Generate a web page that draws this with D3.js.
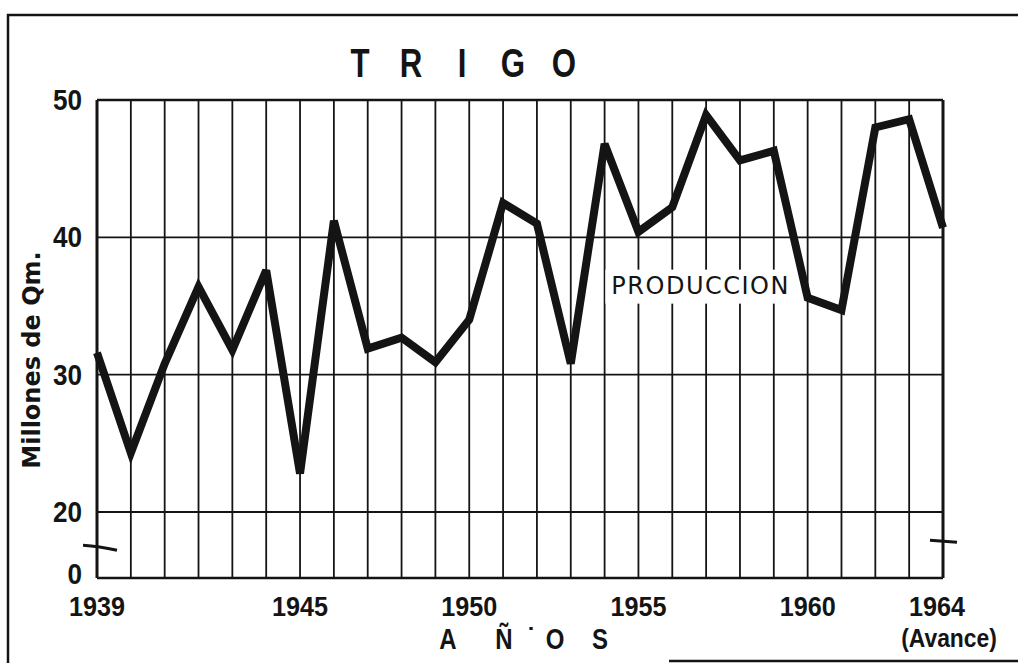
<!DOCTYPE html>
<html>
<head>
<meta charset="utf-8">
<script src="https://cdn.jsdelivr.net/npm/d3@7"></script>
<style>
  body { margin: 0; background: #fff; }
  svg { display: block; }
</style>
</head>
<body>
<div id="chart"></div>
<script>
// produccion de trigo, millones de Qm.
let years = d3.range(1939, 1965)
let produccion = [31.6, 24.3, 30.8, 36.4, 31.8, 37.6, 22.8, 41.2, 31.9, 32.7, 30.9, 34.0, 42.5,
  41.0, 30.8, 46.8, 40.4, 42.2, 48.9, 45.6, 46.3, 35.6, 34.7, 48.0, 48.6, 40.7]
let yTicks = [0, 20, 30, 40, 50]
let xTickYears = [1939, 1945, 1950, 1955, 1960, 1964]
let titleLetters = ['T', 'R', 'I', 'G', 'O']

let width = 1018, height = 663
let margin = { top: 100, right: 75, bottom: 85, left: 97 }
let plot_width = width - margin.left - margin.right
let plot_height = height - margin.top - margin.bottom

let ink = '#141414'
let sans = '"Liberation Sans", Arial, sans-serif'

let svg = d3.select('#chart').append('svg')
  .attr('width', width)
  .attr('height', height)

// marco exterior
svg.append('path')
  .attr('d', 'M8,663 L8,15 L1018,15')
  .attr('fill', 'none').attr('stroke', ink).attr('stroke-width', 2.5)
svg.append('line')
  .attr('x1', 669).attr('x2', 1018).attr('y1', 661).attr('y2', 661)
  .attr('stroke', ink).attr('stroke-width', 2.5)

let xScale = d3.scaleLinear()
  .domain([1939, 1964])
  .range([0, plot_width])

// eje cortado: 0..20 comprimido
let yScale = d3.scaleLinear()
  .domain([0, 20, 50])
  .range([plot_height, plot_height - 66, 0])

let g = svg.append('g')
  .attr('transform', `translate(${margin.left},${margin.top})`)

// rejilla vertical (un trazo por año)
g.append('g').selectAll('line')
  .data(years)
  .join('line')
  .attr('x1', d => xScale(d)).attr('x2', d => xScale(d))
  .attr('y1', 0).attr('y2', plot_height)
  .attr('stroke', ink)
  .attr('stroke-width', (d, i) => (i === 0 || i === years.length - 1) ? 3 : 1.8)

// rejilla horizontal
g.append('g').selectAll('line')
  .data(yTicks)
  .join('line')
  .attr('x1', 0).attr('x2', plot_width)
  .attr('y1', d => yScale(d)).attr('y2', d => yScale(d))
  .attr('stroke', ink)
  .attr('stroke-width', d => (d === 0 || d === 50) ? 2.6 : 1.8)

// marcas de corte del eje
let yBreak = yScale(9)
g.append('path')
  .attr('d', `M${-14},${yBreak - 3} Q${2},${yBreak - 2} ${20},${yBreak + 2}`)
  .attr('fill', 'none').attr('stroke', ink).attr('stroke-width', 3)
g.append('path')
  .attr('d', `M${plot_width - 13},${yBreak - 8} L${plot_width + 14},${yBreak - 6}`)
  .attr('fill', 'none').attr('stroke', ink).attr('stroke-width', 3)

// rotulo de la serie con fondo blanco
let label = g.append('g')
  .attr('transform', `translate(${xScale(1954.2)},${yScale(35.9)})`)
label.append('rect')
  .attr('x', -6).attr('y', -24).attr('width', 188).attr('height', 34)
  .attr('fill', '#fff')
label.append('text')
  .attr('x', 0).attr('y', 0)
  .attr('font-family', '"DejaVu Sans", sans-serif')
  .attr('font-size', '24px')
  .attr('letter-spacing', '1.5px')
  .attr('fill', ink)
  .text('PRODUCCION')

// linea de produccion
let line = d3.line()
  .x((d, i) => xScale(years[i]))
  .y(d => yScale(d))

g.append('path')
  .datum(produccion)
  .attr('d', line)
  .attr('fill', 'none')
  .attr('stroke', ink)
  .attr('stroke-width', 8)
  .attr('stroke-linejoin', 'miter')
  .attr('stroke-miterlimit', 3)

// etiquetas eje y
g.append('g').selectAll('text')
  .data(yTicks)
  .join('text')
  .attr('transform', d => `translate(-15,${yScale(d) + (d === 0 ? 6 : 10)}) scale(0.9,1)`)
  .attr('text-anchor', 'end')
  .attr('font-family', sans)
  .attr('font-weight', 'bold')
  .attr('font-size', '29px')
  .attr('fill', ink)
  .text(d => d)

// etiquetas eje x
g.append('g').selectAll('text')
  .data(xTickYears)
  .join('text')
  .attr('transform', d => `translate(${xScale(d) + (d === 1964 ? -6 : 0)},${plot_height + 38}) scale(0.9,1)`)
  .attr('text-anchor', 'middle')
  .attr('font-family', sans)
  .attr('font-weight', 'bold')
  .attr('font-size', '28px')
  .attr('fill', ink)
  .text(d => d)

g.append('text')
  .attr('transform', `translate(${xScale(1964) + 6},${plot_height + 69}) scale(0.88,1)`)
  .attr('text-anchor', 'middle')
  .attr('font-family', sans)
  .attr('font-weight', 'bold')
  .attr('font-size', '26px')
  .attr('fill', ink)
  .text('(Avance)')

// titulo
let titleX = d3.scalePoint().domain(titleLetters).range([360, 564])
svg.append('g').selectAll('text')
  .data(titleLetters)
  .join('text')
  .attr('transform', d => `translate(${titleX(d)},77) scale(0.78,1)`)
  .attr('text-anchor', 'middle')
  .attr('font-family', sans)
  .attr('font-weight', 'bold')
  .attr('font-size', '40px')
  .attr('fill', ink)
  .text(d => d)

// titulo eje x
let axisLetters = [['A', 448], ['Ñ', 504], ['\u02D9', 531], ['O', 555], ['S', 600]]
svg.append('g').selectAll('text')
  .data(axisLetters)
  .join('text')
  .attr('transform', d => `translate(${d[1]},649) scale(0.8,1)`)
  .attr('text-anchor', 'middle')
  .attr('font-family', sans)
  .attr('font-weight', 'bold')
  .attr('font-size', '30px')
  .attr('fill', ink)
  .text(d => d[0])

// titulo eje y
svg.append('text')
  .attr('transform', 'translate(40,360) rotate(-90)')
  .attr('text-anchor', 'middle')
  .attr('font-family', '"DejaVu Sans", sans-serif')
  .attr('font-weight', 'bold')
  .attr('font-size', '24px')
  .attr('fill', ink)
  .text('Millones de Qm.')
</script>
</body>
</html>
